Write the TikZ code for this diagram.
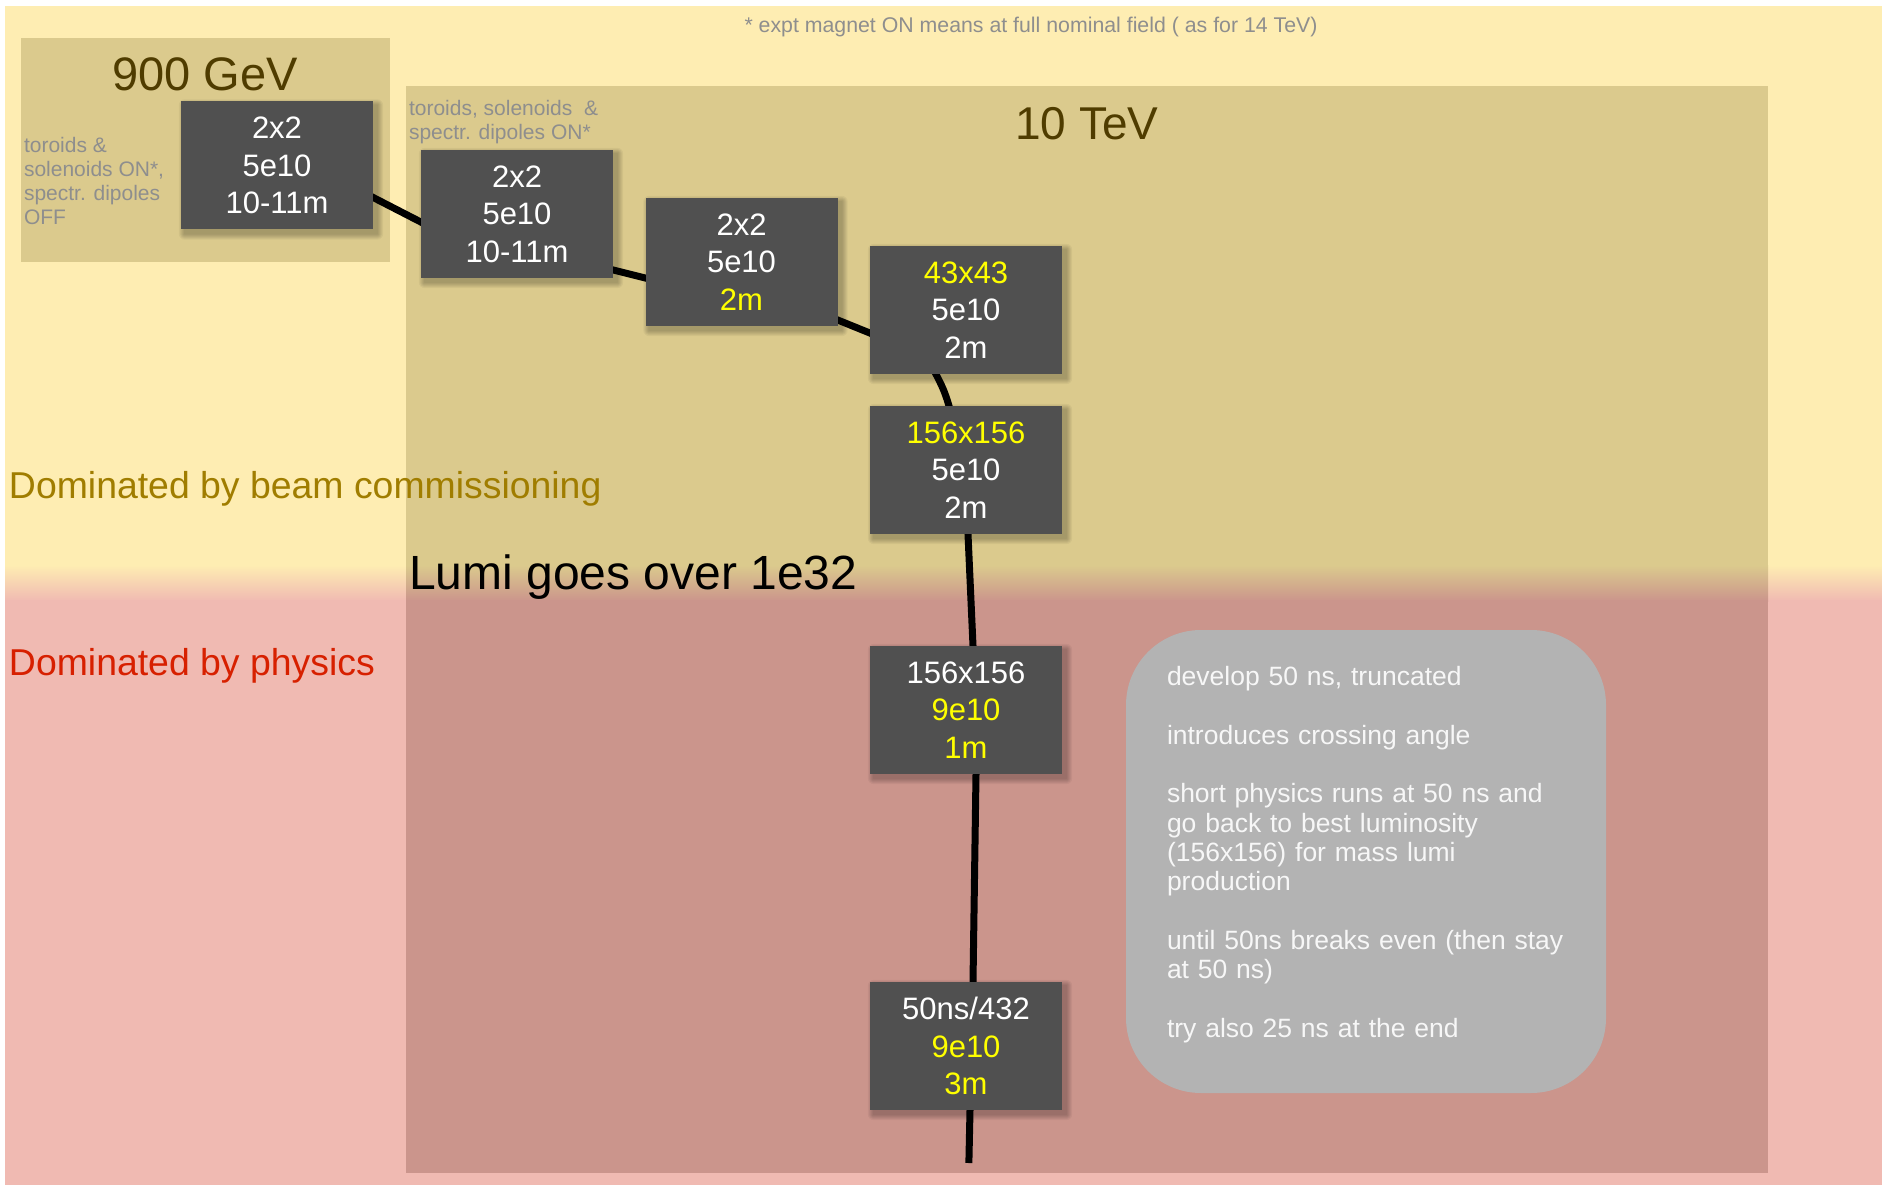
\documentclass[tikz,border=0pt]{standalone}
\usepackage{fontspec}
\setmainfont{Liberation Sans}
\usetikzlibrary{calc}
\definecolor{bgY}{HTML}{FEEDB2}
\definecolor{bgP}{HTML}{F0BAB2}
\definecolor{tanY}{HTML}{DBCA8D}
\definecolor{tanP}{HTML}{CB958C}
\definecolor{boxgray}{HTML}{505050}
\definecolor{notegray}{HTML}{8E8E8E}
\definecolor{goldtext}{HTML}{A07D00}
\definecolor{physred}{HTML}{D72000}
\definecolor{darkbrown}{HTML}{4F3C00}
\definecolor{hiyel}{HTML}{FFFF00}
\definecolor{roundgray}{HTML}{B3B3B3}
\definecolor{notewhite}{HTML}{F7F7F7}
\pgfdeclarelayer{bg}
\pgfdeclarelayer{lines}
\pgfsetlayers{bg,lines,main}
\newcommand{\fs}[2]{\fontsize{#1}{#2}\selectfont}
\newcommand{\hy}[1]{{\color{hiyel}#1}}
\newcommand{\softshadow}[1]{%
  \foreach \i in {1,...,6}{%
    \fill[black,opacity=0.045,rounded corners=\i pt]
      ($(#1.south west)+(4-\i,4+\i)$) rectangle ($(#1.north east)+(4+\i,4-\i)$);}}
\tikzset{
  stage/.style={fill=boxgray, text=white, minimum width=192pt, minimum height=128pt,
    inner sep=0pt, align=center, font=\fs{31}{37.5}},
  link/.style={line width=7pt, black, shorten <=-6pt, shorten >=-6pt},
  txt/.style={inner sep=0pt, outer sep=0pt},
  smallnote/.style={txt, text=notegray, font=\fs{21}{24}},
  title/.style={txt, text=darkbrown, anchor=base},
  notebox/.style={fill=roundgray, rounded corners=75pt, minimum width=480pt,
    minimum height=463pt, inner sep=0pt},
  notetext/.style={txt, text=notewhite, align=left, text width=398pt, font=\fs{26.5}{29.3}}
}
\begin{document}
\begin{tikzpicture}[x=1pt,y=-1pt]
\useasboundingbox (0,0) rectangle (1882,1185);
\begin{pgfonlayer}{bg}
  \fill[white] (0,0) rectangle (1882,1185);
  \fill[bgY] (5,6) rectangle (1882,566);
  \shade[top color=bgY, bottom color=bgP] (5,565) rectangle (1882,601);
  \fill[bgP] (5,600) rectangle (1882,1185);
  \fill[tanY] (21,38) rectangle (390,262);
  \fill[tanY] (406,86) rectangle (1768,566);
  \shade[top color=tanY, bottom color=tanP] (406,565) rectangle (1768,601);
  \fill[tanP] (406,600) rectangle (1768,1173);
\end{pgfonlayer}

% texts
\node[title, font=\fs{47}{56}] (t900) at (205,91) {900 GeV};
\node[title, font=\fs{46}{55}] (t10) at (1087,140) {10 TeV};
\node[smallnote, anchor=base, font=\fs{21.3}{24}] (note) at (1031,33) {* expt magnet ON means at full nominal field ( as for 14 TeV)};
\node[smallnote, anchor=north west, align=left] (mag900) at (24,137.7) {toroids \&\\solenoids ON*,\\spectr. dipoles\\OFF};
\node[smallnote, anchor=north west, align=left] (mag10) at (409,100.7) {toroids, solenoids \ \&\\spectr. dipoles ON*};
\node[txt, anchor=base west, text=goldtext, font=\fs{37.4}{44}] (dombeam) at (9,498) {Dominated by beam commissioning};
\node[txt, anchor=base west, text=physred, font=\fs{37.4}{44}] (domphys) at (9,675) {Dominated by physics};
\node[txt, anchor=base west, text=black, font=\fs{48}{56}] (lumi) at (409,589) {Lumi goes over 1e32};

% stages
\node[stage] (b1) at (277,165.5) {2x2\\5e10\\10-11m};
\node[stage] (b2) at (517,214) {2x2\\5e10\\10-11m};
\node[stage] (b3) at (741.5,262) {2x2\\5e10\\\hy{2m}};
\node[stage] (b4) at (966,310) {\hy{43x43}\\5e10\\2m};
\node[stage] (b5) at (966,470) {\hy{156x156}\\5e10\\2m};
\node[stage] (b6) at (966,710) {156x156\\\hy{9e10}\\\hy{1m}};
\node[stage] (b7) at (966,1046) {50ns/432\\\hy{9e10}\\\hy{3m}};
\coordinate (tail) at (969,1157);

% notes
\node[notebox] (notes) at (1366,861.5) {};
\node[notetext] (notestext) at (1366,854.5) {develop 50 ns, truncated\\[29.3pt]
introduces crossing angle\\[29.3pt]
short physics runs at 50 ns and\\go back to best luminosity\\(156x156) for mass lumi\\production\\[29.3pt]
until 50ns breaks even (then stay\\at 50 ns)\\[29.3pt]
try also 25 ns at the end};

\begin{pgfonlayer}{lines}
  \softshadow{b1}\softshadow{b2}\softshadow{b3}\softshadow{b4}
  \softshadow{b5}\softshadow{b6}\softshadow{b7}
  \draw[link] ($(b1.east)+(0,32)$) -- ($(b2.west)+(0,8)$);
  \draw[link] ($(b2.east)+(0,56)$) -- ($(b3.west)+(0,16)$);
  \draw[link] ($(b3.east)+(0,58)$) -- ($(b4.west)+(0,23)$);
  \draw[link] ($(b4.south)+(-30,0)$) to[out=-62,in=105] ($(b5.north)+(-17,0)$);
  \draw[link] ($(b5.south)+(2,0)$) -- ($(b6.north)+(7,0)$);
  \draw[link] ($(b6.south)+(10,0)$) -- ($(b7.north)+(7,0)$);
  \draw[link] ($(b7.south)+(4,0)$) -- (tail);
\end{pgfonlayer}
\end{tikzpicture}
\end{document}
